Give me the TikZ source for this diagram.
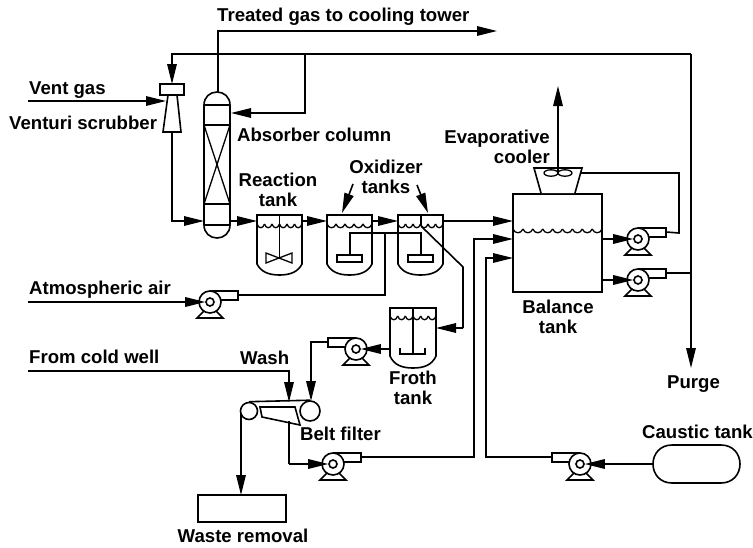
\documentclass[tikz,border=0pt]{standalone}
\usepackage{fontspec}
\setmainfont{Liberation Sans}[BoldFont={Liberation Sans Bold}]
\usetikzlibrary{arrows.meta}
\tikzset{
  flow/.style={line width=1.6pt,-{Stealth[length=20pt,width=9.5pt,inset=0pt]},shorten >=0pt},
  pipe/.style={line width=1.6pt},
  outl/.style={line width=1.6pt,line join=miter},
  thin part/.style={line width=1.3pt},
  lbl/.style={font=\bfseries\fontsize{18.6}{20}\selectfont,inner sep=0pt},
  lblw/.style={lbl,anchor=base west},
  lble/.style={lbl,anchor=base east},
  lblc/.style={lbl,anchor=base},
  pumpbody/.style={circle,draw,line width=1.6pt,fill=white,minimum size=22pt,inner sep=0pt},
  pumpeye/.style={circle,draw,line width=1.6pt,fill=white,minimum size=8pt,inner sep=0pt},
}
% name, cx, cy, side (+1: outlet to the right, -1: outlet to the left)
\newcommand{\pumpat}[4]{%
  \draw[outl,fill=white] (#2-6,#3+9) -- (#2-13,#3+16) -- (#2+13,#3+16) -- (#2+6,#3+9);
  \draw[outl,fill=white] (#2,#3-11) -- (#2+#4*28,#3-11) -- (#2+#4*28,#3-2) -- (#2,#3-2);
  \node[pumpbody] (#1) at (#2,#3) {};
  \node[pumpeye] (#1c) at (#2,#3) {};
  \coordinate (#1o) at (#2+#4*28,#3-7);
}
% x left, x right, top, side end, bottom
\newcommand{\vesselat}[5]{%
  \draw[outl] (#1,#3) -- (#2,#3) -- (#2,#4) .. controls (#2-4,#5-3) and (#2-12,#5) .. ({(#1+#2)/2},#5)
    .. controls (#1+12,#5) and (#1+4,#5-3) .. (#1,#4) -- cycle;
}
% x start, scallop width, count, y
\newcommand{\wavesat}[4]{%
  \foreach \wi in {1,...,#3}{
    \pgfmathsetmacro{\wa}{#1+(\wi-1)*#2}
    \pgfmathsetmacro{\wb}{#1+\wi*#2}
    \pgfmathsetmacro{\wc}{\wa+.2*#2}
    \pgfmathsetmacro{\wd}{\wa+.8*#2}
    \draw[thin part] (\wa,#4) .. controls (\wc,#4+5) and (\wd,#4+5) .. (\wb,#4);
  }
}
\begin{document}
\begin{tikzpicture}[x=1pt,y=-1pt]
\useasboundingbox (0,0) rectangle (753,547);

% ---- named points
\coordinate (treatEnd) at (497,31);
\coordinate (treatCorner) at (218,31);
\coordinate (colTop) at (218,92);
\coordinate (recL) at (172,54);
\coordinate (recR) at (691,54);
\coordinate (recB) at (305,54);
\coordinate (recB2) at (305,113);
\coordinate (colIn) at (231,113);
\coordinate (ventTop) at (172,84);
\coordinate (ventBot) at (172,132);
\coordinate (ventS) at (28,101);
\coordinate (ventE) at (166,101);
\coordinate (ventC) at (172,221);
\coordinate (colL) at (204,221);
\coordinate (colR) at (230,221);
\coordinate (reacL) at (257,221);
\coordinate (reacR) at (302,221);
\coordinate (ox1L) at (327,221);
\coordinate (ox1R) at (372,221);
\coordinate (ox2L) at (398,221);
\coordinate (ox2R) at (443,221);
\coordinate (balL1) at (513,221);
\coordinate (balL2) at (513,239);
\coordinate (balL3) at (513,258);
\coordinate (balR1) at (602,239);
\coordinate (balR2) at (602,280);
\coordinate (purgeEnd) at (691,368);
\coordinate (purgeJ) at (691,273);

% ---- column
\draw[outl] (204,105) .. controls (204,97) and (210,92) .. (217,92) .. controls (224,92) and (230,97) .. (230,105)
  -- (230,225) .. controls (230,233) and (224,238) .. (217,238) .. controls (210,238) and (204,233) .. (204,225) -- cycle;
\draw[outl] (204,105) -- (230,105) (204,125) -- (230,125) (204,204) -- (230,204) (204,225) -- (230,225);
\draw[thin part] (204,125) -- (230,204) (230,125) -- (204,204);

% ---- venturi
\draw[outl] (168,95) -- (163,132) -- (181,132) -- (177,95);
\node[draw,line width=1.6pt,minimum width=24pt,minimum height=11pt,inner sep=0pt] (ventBox) at (172,89.5) {};

% ---- vessels
\vesselat{257}{302}{215}{264}{275}
\vesselat{327}{372}{215}{264}{275}
\vesselat{398}{443}{215}{264}{275}
\vesselat{390}{436}{308}{356}{368}
\wavesat{257}{7.5}{6}{224}
\wavesat{327}{9}{5}{224}
\wavesat{398}{7.5}{6}{224}
\wavesat{390}{7.67}{6}{316}
% agitators
\draw[outl] (279.5,215) -- (279.5,258);
\draw[thin part] (266,253) -- (292,263) -- (292,253) -- (266,263) -- cycle;
\draw[outl] (421,215) -- (421,226);
\node[draw,line width=1.6pt,minimum width=25pt,minimum height=7pt,inner sep=0pt] (spar1) at (349.5,258.5) {};
\node[draw,line width=1.6pt,minimum width=25pt,minimum height=7pt,inner sep=0pt] (spar2) at (420.5,258.5) {};
\coordinate (airTop1) at (350,233);
\coordinate (airTop2) at (421,233);
\coordinate (airJ) at (385,233);
\coordinate (airC) at (385,295);
\draw[pipe] (spar1.north -| airTop1) -- (airTop1) -- (airTop2) -- (spar2.north -| airTop2);
\draw[outl] (413,308) -- (413,354);
\draw[thin part] (400,348) -- (400,354) -- (425,354) -- (425,348);

% ---- balance tank and cooler
\node[draw,line width=1.6pt,minimum width=89pt,minimum height=98pt,inner sep=0pt] (bal) at (557.5,243) {};
\wavesat{513}{9.9}{9}{229}
\draw[outl,fill=white] (541,193) -- (534,168) -- (582,168) -- (575,193);
\draw[thin part] (551,173) ellipse (7 and 3.2);
\draw[thin part] (565,173) ellipse (7 and 3.2);
\coordinate (coolFan) at (558,173);
\coordinate (coolUp) at (558,86);
\coordinate (coolR) at (581,173);
\coordinate (c5a) at (679,233);
\coordinate (c5b) at (679,173);

% ---- froth tank piping
\coordinate (d0) at (421,226);
\coordinate (d1) at (463,267);
\coordinate (d2) at (463,328);
\coordinate (frothR) at (436,328);
\coordinate (frothL) at (390,349);

% ---- pumps
\pumpat{pa}{210}{302}{1}
\pumpat{pb}{356}{349}{-1}
\pumpat{pc}{333}{464}{1}
\pumpat{pd}{580}{464}{-1}
\pumpat{pe}{638}{239}{1}
\pumpat{pf}{638}{280}{1}

% ---- belt filter
\node[circle,draw,line width=1.6pt,minimum size=17pt,inner sep=0pt] (rollL) at (249,411) {};
\node[circle,draw,line width=1.6pt,minimum size=20pt,inner sep=0pt] (rollR) at (310,411) {};
\draw[outl] (rollL.north) -- (rollR.north);
\draw[outl] (260,407) -- (295,407) -- (300,425) -- (262,417) -- cycle;
\coordinate (washS) at (28,371);
\coordinate (washC) at (289,371);
\coordinate (washE) at (289,402);
\coordinate (feedC1) at (311,342);
\coordinate (feedE) at (311,401);
\coordinate (filtOut) at (289,421);
\coordinate (filtC) at (289,464);
\coordinate (wasteS) at (241,413);
\coordinate (wasteE) at (241,495);
\node[draw,line width=1.6pt,minimum width=88pt,minimum height=27pt,inner sep=0pt] (waste) at (242,508.5) {};

% ---- caustic tank
\draw[outl] (672,445) -- (721,445) .. controls (733,445) and (740,454) .. (740,464) .. controls (740,474) and (733,483) .. (721,483)
  -- (672,483) .. controls (660,483) and (653,474) .. (653,464) .. controls (653,454) and (660,445) .. (672,445) -- cycle;
\coordinate (caustL) at (653,464);

% ---- connectors
\draw[flow] (colTop) -- (treatCorner) -- (treatEnd);
\draw[flow] (recR) -- (recL) -- (ventTop);
\draw[flow] (recB) -- (recB2) -- (colIn);
\draw[flow] (ventS) -- (ventE);
\draw[flow] (ventBot) -- (ventC) -- (colL);
\draw[flow] (colR) -- (reacL);
\draw[flow] (reacR) -- (ox1L);
\draw[flow] (ox1R) -- (ox2L);
\draw[flow] (ox2R) -- (balL1);
\draw[flow] (recR) -- (purgeEnd);
\draw[pipe] (pfo) -- (purgeJ);
\draw[flow] (balR1) -- (pec);
\draw[flow] (balR2) -- (pfc);
\draw[pipe] (peo) -- (c5a) -- (c5b) -- (coolR);
\draw[flow] (coolFan) -- (coolUp);
\draw[pipe] (airJ) -- (airC) -- (pao);
\coordinate (airS) at (28,302);
\draw[flow] (airS) -- (pac);
\draw[pipe] (d0) -- (d1) -- (d2);
\draw[flow] (d2) -- (frothR);
\draw[flow] (frothL) -- (pbc);
\draw[flow] (pbo) -- (feedC1) -- (feedE);
\draw[flow] (washS) -- (washC) -- (washE);
\draw[pipe] (filtOut) -- (filtC);
\draw[flow] (filtC) -- (pcc);
\coordinate (cUp) at (474,457);
\coordinate (cUp2) at (474,239);
\draw[flow] (pco) -- (cUp) -- (cUp2) -- (balL2);
\coordinate (dUp) at (486,457);
\coordinate (dUp2) at (486,258);
\draw[flow] (pdo) -- (dUp) -- (dUp2) -- (balL3);
\draw[flow] (caustL) -- (pdc);
\draw[flow] (wasteS) -- (wasteE);
\coordinate (oxA) at (353,184);
\coordinate (oxAe) at (342,213);
\coordinate (oxB) at (417,185);
\coordinate (oxBe) at (428,213);
\draw[flow] (oxA) -- (oxAe);
\draw[flow] (oxB) -- (oxBe);

% ---- labels
\node[lblw] (t1) at (217,21) {Treated gas to cooling tower};
\node[lblw] (t2) at (29,94) {Vent gas};
\node[lblw] (t3) at (9,129) {Venturi scrubber};
\node[lblw] (t4) at (237,141) {Absorber column};
\node[lblc] (t5) at (278,186) {Reaction};
\node[lblc] (t6) at (278,206) {tank};
\node[lblc] (t7) at (386,173) {Oxidizer};
\node[lblc] (t8) at (386,193) {tanks};
\node[lble] (t9) at (550,143) {Evaporative};
\node[lble] (t10) at (550,163) {cooler};
\node[lblc] (t11) at (558,313) {Balance};
\node[lblc] (t12) at (558,333) {tank};
\node[lblw] (t13) at (29,294) {Atmospheric air};
\node[lblw] (t14) at (29,363) {From cold well};
\node[lblw] (t15) at (240,364) {Wash};
\node[lblc] (t16) at (413,384) {Froth};
\node[lblc] (t17) at (413,404) {tank};
\node[lblw] (t18) at (300,440) {Belt filter};
\node[lblc] (t19) at (243,542) {Waste removal};
\node[lblw] (t20) at (667,388) {Purge};
\node[lble] (t21) at (753,438) {Caustic tank};
\end{tikzpicture}
\end{document}
